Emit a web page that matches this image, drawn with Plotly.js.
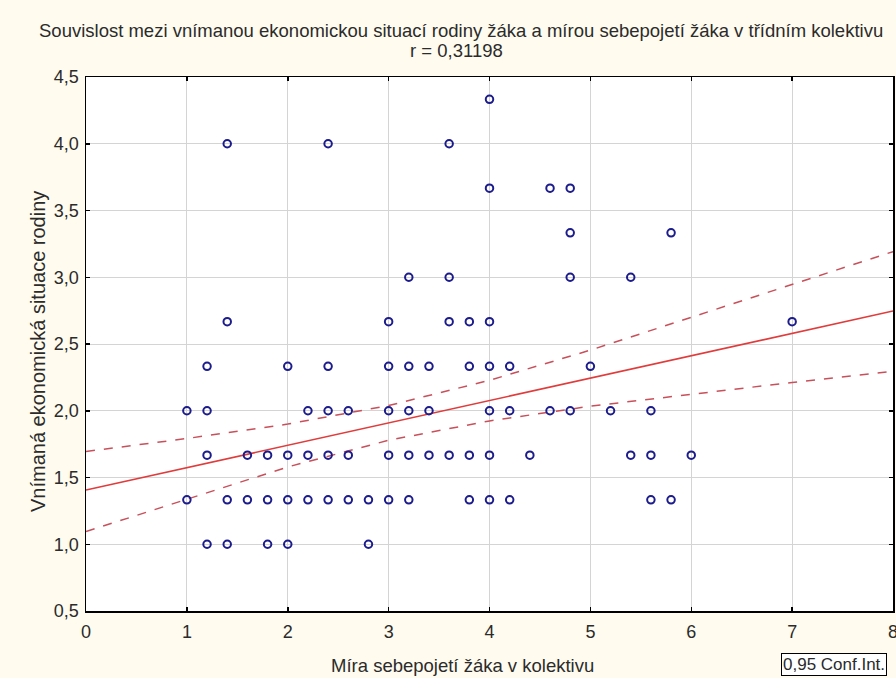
<!DOCTYPE html>
<html>
<head>
<meta charset="utf-8">
<script src="https://cdn.plot.ly/plotly-3.0.1.min.js"></script>
<style>html,body{margin:0;padding:0;background:#FFFBEF;}#chart{width:896px;height:678px;}</style>
</head>
<body>
<div id="chart"></div>
<script>
// Observed points (Míra sebepojetí, Vnímaná ekonomická situace)
const sebepojeti = [
  4.0,
  1.4, 2.4, 3.6,
  4.0, 4.6, 4.8,
  4.8, 5.8,
  3.2, 3.6, 4.8, 5.4,
  1.4, 3.0, 3.6, 3.8, 4.0, 7.0,
  1.2, 2.0, 2.4, 3.0, 3.2, 3.4, 3.8, 4.0, 4.2, 5.0,
  1.0, 1.2, 2.2, 2.4, 2.6, 3.0, 3.2, 3.4, 4.0, 4.2, 4.6, 4.8, 5.2, 5.6,
  1.2, 1.6, 1.8, 2.0, 2.2, 2.4, 2.6, 3.0, 3.2, 3.4, 3.6, 3.8, 4.0, 4.4, 5.4, 5.6, 6.0,
  1.0, 1.4, 1.6, 1.8, 2.0, 2.2, 2.4, 2.6, 2.8, 3.0, 3.2, 3.8, 4.0, 4.2, 5.6, 5.8,
  1.2, 1.4, 1.8, 2.0, 2.8
];
const situace = [
  4.333,
  4.0, 4.0, 4.0,
  3.667, 3.667, 3.667,
  3.333, 3.333,
  3.0, 3.0, 3.0, 3.0,
  2.667, 2.667, 2.667, 2.667, 2.667, 2.667,
  2.333, 2.333, 2.333, 2.333, 2.333, 2.333, 2.333, 2.333, 2.333, 2.333,
  2.0, 2.0, 2.0, 2.0, 2.0, 2.0, 2.0, 2.0, 2.0, 2.0, 2.0, 2.0, 2.0, 2.0,
  1.667, 1.667, 1.667, 1.667, 1.667, 1.667, 1.667, 1.667, 1.667, 1.667, 1.667, 1.667, 1.667, 1.667, 1.667, 1.667, 1.667,
  1.333, 1.333, 1.333, 1.333, 1.333, 1.333, 1.333, 1.333, 1.333, 1.333, 1.333, 1.333, 1.333, 1.333, 1.333, 1.333,
  1.0, 1.0, 1.0, 1.0, 1.0
];

// Regression line and 95% confidence band
const fitX   = [0, 8];
const fitY   = [1.406, 2.747];
const bandX  = [0, 1, 2, 3, 4, 5, 6, 7, 8];
const upperY = [1.695, 1.792, 1.900, 2.039, 2.228, 2.454, 2.700, 2.945, 3.192];
const lowerY = [1.095, 1.335, 1.579, 1.779, 1.924, 2.034, 2.125, 2.212, 2.295];

const xTicks = [0, 1, 2, 3, 4, 5, 6, 7, 8];
const yTicks = [0.5, 1.0, 1.5, 2.0, 2.5, 3.0, 3.5, 4.0, 4.5];

const font = 'Liberation Sans, Arial, sans-serif';
const textColor = '#2B2B2B';

const traces = [
  {x: bandX, y: upperY, mode: 'lines', line: {color: '#C8505A', width: 1.5, dash: 'dash'}, hoverinfo: 'skip'},
  {x: bandX, y: lowerY, mode: 'lines', line: {color: '#C8505A', width: 1.5, dash: 'dash'}, hoverinfo: 'skip'},
  {x: fitX, y: fitY, mode: 'lines', line: {color: '#E03C3C', width: 1.6}, hoverinfo: 'skip'},
  {x: sebepojeti, y: situace, mode: 'markers', type: 'scatter',
   marker: {symbol: 'circle-open', size: 7.5, color: '#1C1C8C', line: {width: 2, color: '#1C1C8C'}}}
];

const axisCommon = {
  showline: true, linecolor: '#000000', linewidth: 1.5, mirror: 'ticks',
  ticks: 'inside', ticklen: 4, tickcolor: '#000000', tickwidth: 1.5,
  showgrid: true, gridcolor: '#D4D4D4', gridwidth: 1,
  zeroline: false, tickfont: {family: font, size: 18, color: textColor},
  ticklabeloverflow: 'allow'
};

const layout = {
  width: 896, height: 678,
  margin: {l: 86, r: 3, t: 77, b: 67},
  paper_bgcolor: '#FFFBEF', plot_bgcolor: '#FFFFFF',
  showlegend: false,
  separators: ', ',
  xaxis: Object.assign({}, axisCommon, {range: [0, 8], tickvals: xTicks, ticktext: xTicks.map(String), ticklabelstandoff: 4}),
  yaxis: Object.assign({}, axisCommon, {range: [0.5, 4.5], tickvals: yTicks, tickformat: '.1f', ticklabelstandoff: 2}),
  annotations: [
    {text: 'Souvislost mezi vnímanou ekonomickou situací rodiny žáka a mírou sebepojetí žáka v třídním kolektivu',
     xref: 'paper', yref: 'paper', x: (461-86)/807, y: 1, yshift: 47, xanchor: 'center', yanchor: 'middle',
     showarrow: false, font: {family: font, size: 18.5, color: textColor}},
    {text: 'r = 0,31198',
     xref: 'paper', yref: 'paper', x: (456-86)/807, y: 1, yshift: 27, xanchor: 'center', yanchor: 'middle',
     showarrow: false, font: {family: font, size: 18.5, color: textColor}},
    {text: 'Míra sebepojetí žáka v kolektivu',
     xref: 'paper', yref: 'paper', x: (462-86)/807, y: 0, yshift: -54, xanchor: 'center', yanchor: 'middle',
     showarrow: false, font: {family: font, size: 18.5, color: textColor}},
    {text: 'Vnímaná ekonomická situace rodiny', textangle: -90,
     xref: 'paper', yref: 'paper', x: 0, xshift: -48, y: (611-352)/534, xanchor: 'center', yanchor: 'middle',
     showarrow: false, font: {family: font, size: 20, color: textColor}},
    {text: '0,95 Conf.Int.',
     xref: 'paper', yref: 'paper', x: (781-86)/807, y: 0, yshift: -42, xanchor: 'left', yanchor: 'top',
     showarrow: false, bordercolor: '#000000', borderwidth: 1, borderpad: 1, bgcolor: '#FFFFFF',
     font: {family: font, size: 17, color: textColor}}
  ]
};

Plotly.newPlot('chart', traces, layout, {displayModeBar: false, staticPlot: true});
</script>
</body>
</html>
